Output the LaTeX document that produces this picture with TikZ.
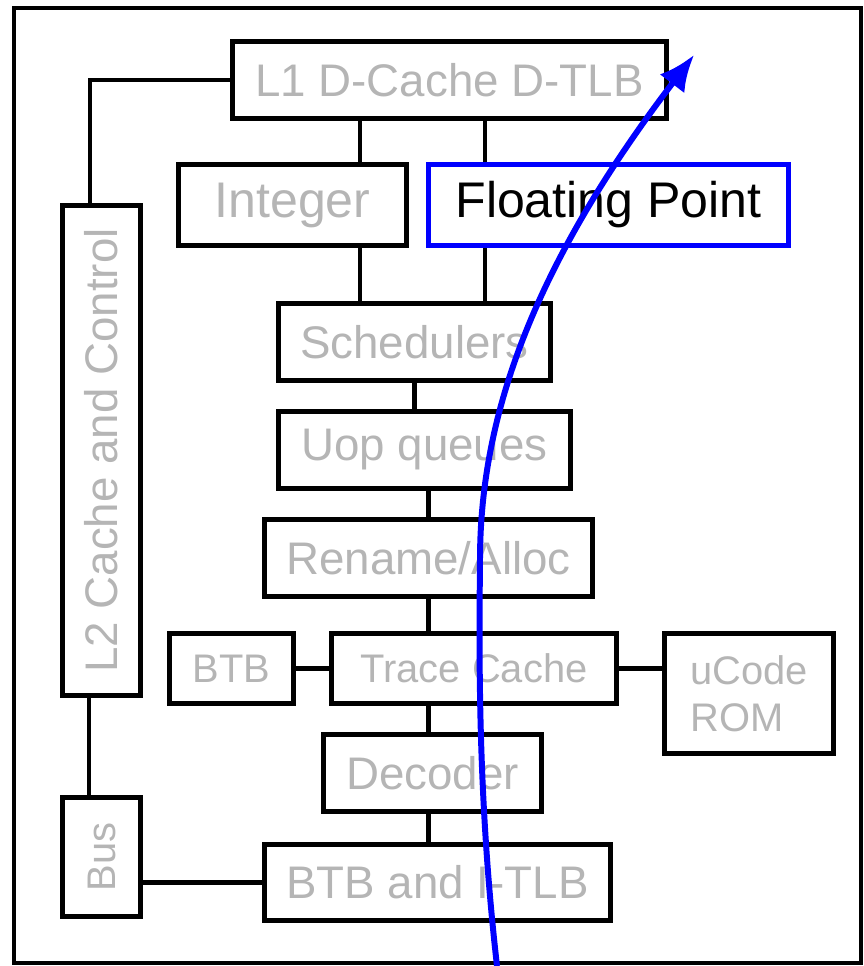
\documentclass[tikz,border=0pt]{standalone}
\usepackage{fontspec}
\setmainfont{Liberation Sans}
\usetikzlibrary{arrows.meta}
\definecolor{fadedtext}{rgb}{0.71,0.71,0.71}
\definecolor{pathblue}{rgb}{0,0,1}
\tikzset{
    unitbox/.style={draw=black, line width=3pt, text=fadedtext, inner sep=0pt,
        font=\fontsize{26}{30}\selectfont},
    smallunit/.style={unitbox, font=\fontsize{22.7}{26.7}\selectfont},
    bigunit/.style={unitbox, font=\fontsize{28.5}{32}\selectfont},
    linkline/.style={draw=black, line width=2.4pt},
    flowpath/.style={draw=pathblue, line width=3.4pt, -{Latex[length=0.72cm,width=0.62cm]}}
}

\begin{document}
\begin{tikzpicture}[x=0.02cm, y=-0.02cm]
    \useasboundingbox (0,0) rectangle (863,966);

    % Outer frame
    \draw[line width=2.2pt] (14,8) rectangle (861,963);

    % Cache side
    \node[unitbox, minimum width=8.68cm, minimum height=1.54cm] (l1) at (449.5,80) {L1 D-Cache D-TLB};
    \node[unitbox, rotate=90, minimum width=9.8cm, minimum height=1.56cm] (l2) at (101.5,450.5) {L2 Cache and Control};
    \node[smallunit, rotate=90, minimum width=2.38cm, minimum height=1.56cm] (bus) at (101.5,857) {Bus};

    % Execution units
    \node[bigunit, minimum width=4.56cm, minimum height=1.62cm] (int) at (292.5,205) {Integer};
    \node[bigunit, draw=pathblue, text=black, minimum width=7.2cm, minimum height=1.62cm] (fp) at (608.5,205) {Floating Point};

    % Front end, top to bottom
    \node[unitbox, minimum width=5.44cm, minimum height=1.54cm] (sched) at (414.5,342) {Schedulers};
    \node[unitbox, minimum width=5.84cm, minimum height=1.54cm] (uop) at (424.5,450) {Uop queues};
    \node[unitbox, minimum width=6.56cm, minimum height=1.54cm] (ren) at (428.5,558) {Rename/Alloc};
    \node[smallunit, minimum width=2.48cm, minimum height=1.4cm] (btb) at (231.5,668.5) {BTB};
    \node[smallunit, minimum width=5.7cm, minimum height=1.4cm] (trace) at (474,668.5) {Trace Cache};
    \node[smallunit, align=left, minimum width=3.38cm, minimum height=2.4cm] (ucode) at (749,693.5) {uCode\\ROM};
    \node[unitbox, minimum width=4.36cm, minimum height=1.54cm] (dec) at (432.5,773) {Decoder};
    \node[unitbox, minimum width=6.92cm, minimum height=1.52cm] (itlb) at (437.5,882.5) {BTB and I-TLB};

    % Link points (l2 and bus are turned, so east is their top)
    \path ([xshift=-0.23cm]l2.east) coordinate (l2up);
    \path ([xshift=-0.25cm]l2.west) coordinate (l2down);
    \path ([xshift=1.35cm]int.north) coordinate (intup);
    \path ([xshift=1.35cm]int.south) coordinate (intdown);
    \path ([xshift=-2.47cm]fp.north) coordinate (fpup);
    \path ([xshift=-2.47cm]fp.south) coordinate (fpdown);

    % Connections
    \draw[linkline] (l1.west) -| (l2up);
    \draw[linkline] (l2down) -- (l2down |- bus.east);
    \draw[linkline] (intup) -- (intup |- l1.south);
    \draw[linkline] (fpup) -- (fpup |- l1.south);
    \draw[linkline] (intdown) -- (intdown |- sched.north);
    \draw[linkline] (fpdown) -- (fpdown |- sched.north);
    \draw[linkline] (sched.south) -- (sched.south |- uop.north);
    \draw[linkline] (uop.south -| ren.north) -- (ren.north);
    \draw[linkline] (ren.south) -- (ren.south |- trace.north);
    \draw[linkline] (btb.east) -- (trace.west);
    \draw[linkline] (trace.east) -- (trace.east -| ucode.west);
    \draw[linkline] (trace.south -| ren.south) -- (dec.north -| ren.south);
    \draw[linkline] (dec.south -| ren.south) -- (itlb.north -| ren.south);
    \draw[linkline] (itlb.west -| bus.south) -- (itlb.west);

    % Path through the pipeline
    \coordinate (flowstart) at (497,966);
    \coordinate (flowend) at (694,55);
    \draw[flowpath] (flowstart) .. controls (478,800) and (479,660) .. (480,560)
        .. controls (480,420) and (530,270) .. (flowend);
\end{tikzpicture}
\end{document}
